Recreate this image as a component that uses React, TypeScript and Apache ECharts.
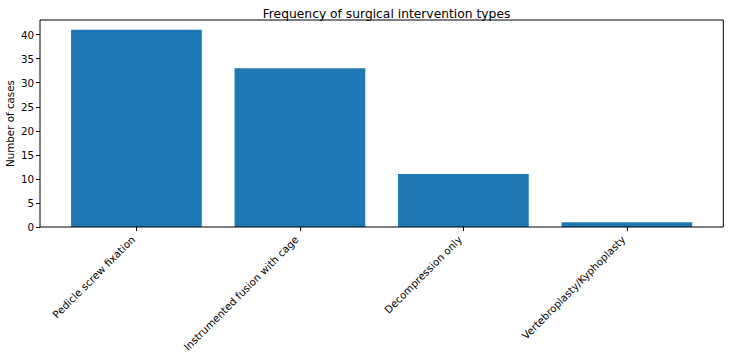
import React, { useEffect, useRef } from "react";
import * as echarts from "echarts";

const categories = [
  "Pedicle screw fixation",
  "Instrumented fusion with cage",
  "Decompression only",
  "Vertebroplasty/Kyphoplasty",
];
const counts = [41, 33, 11, 1];
const yTicks = [0, 5, 10, 15, 20, 25, 30, 35, 40];

export default function App() {
  const ref = useRef<HTMLDivElement>(null);
  useEffect(() => {
    if (!ref.current) return;
    const chart = echarts.init(ref.current, null, { renderer: "svg" });
    const font = "DejaVu Sans";
    // axes frame: x 40..723, y 20..227 ; category band 163.4px
    const frameL = 40;
    const frameR = 723.3;
    const frameT = 20;
    const frameB = 227;
    const band = 163.4;
    const pad = 0.09 * band; // matplotlib margin beyond half band
    chart.setOption({
      animation: false,
      backgroundColor: "#ffffff",
      title: {
        text: "Frequency of surgical intervention types",
        left: 381.5,
        top: 3,
        textAlign: "center",
        textStyle: { fontFamily: font, fontSize: 12.3, fontWeight: "normal", color: "#000" },
      },
      grid: {
        left: frameL + pad,
        right: 731 - frameR + pad,
        top: frameT,
        bottom: 355 - frameB,
        show: false,
        containLabel: false,
        outerBoundsMode: "none",
      },
      graphic: [
        {
          type: "rect",
          shape: { x: frameL, y: frameT, width: frameR - frameL, height: frameB - frameT },
          style: { fill: "none", stroke: "#000", lineWidth: 1 },
          z: 10,
          silent: true,
        },
      ],
      xAxis: {
        type: "category",
        data: categories,
        boundaryGap: true,
        splitLine: { show: false },
        axisLine: { show: false, onZero: false },
        axisTick: {
          show: true,
          alignWithLabel: true,
          length: 4,
          lineStyle: { color: "#000" },
        },
        axisLabel: {
          rotate: 45,
          margin: 14,
          interval: 0,
          verticalAlign: "bottom",
          fontFamily: font,
          fontSize: 10.3,
          color: "#000",
        },
      },
      yAxis: {
        type: "value",
        min: 0,
        max: 43.05,
        interval: 5,
        offset: pad,
        name: "Number of cases",
        nameLocation: "middle",
        nameGap: 25,
        nameMoveOverlap: false,
        nameTextStyle: { fontFamily: font, fontSize: 10.3, color: "#000" },
        splitLine: { show: false },
        axisLine: { show: false, onZero: false },
        axisTick: {
          show: true,
          length: 4,
          customValues: yTicks,
          lineStyle: { color: "#000" },
        },
        axisLabel: {
          customValues: yTicks,
          margin: 6,
          fontFamily: font,
          fontSize: 10.3,
          color: "#000",
        },
      },
      series: [
        {
          type: "bar",
          data: counts,
          barWidth: 0.8 * band,
          itemStyle: { color: "#1f77b4" },
        },
      ],
    });
    return () => chart.dispose();
  }, []);
  return (
    <div
      ref={ref}
      style={{ position: "fixed", left: 0, top: 0, width: 731, height: 355 }}
    />
  );
}
